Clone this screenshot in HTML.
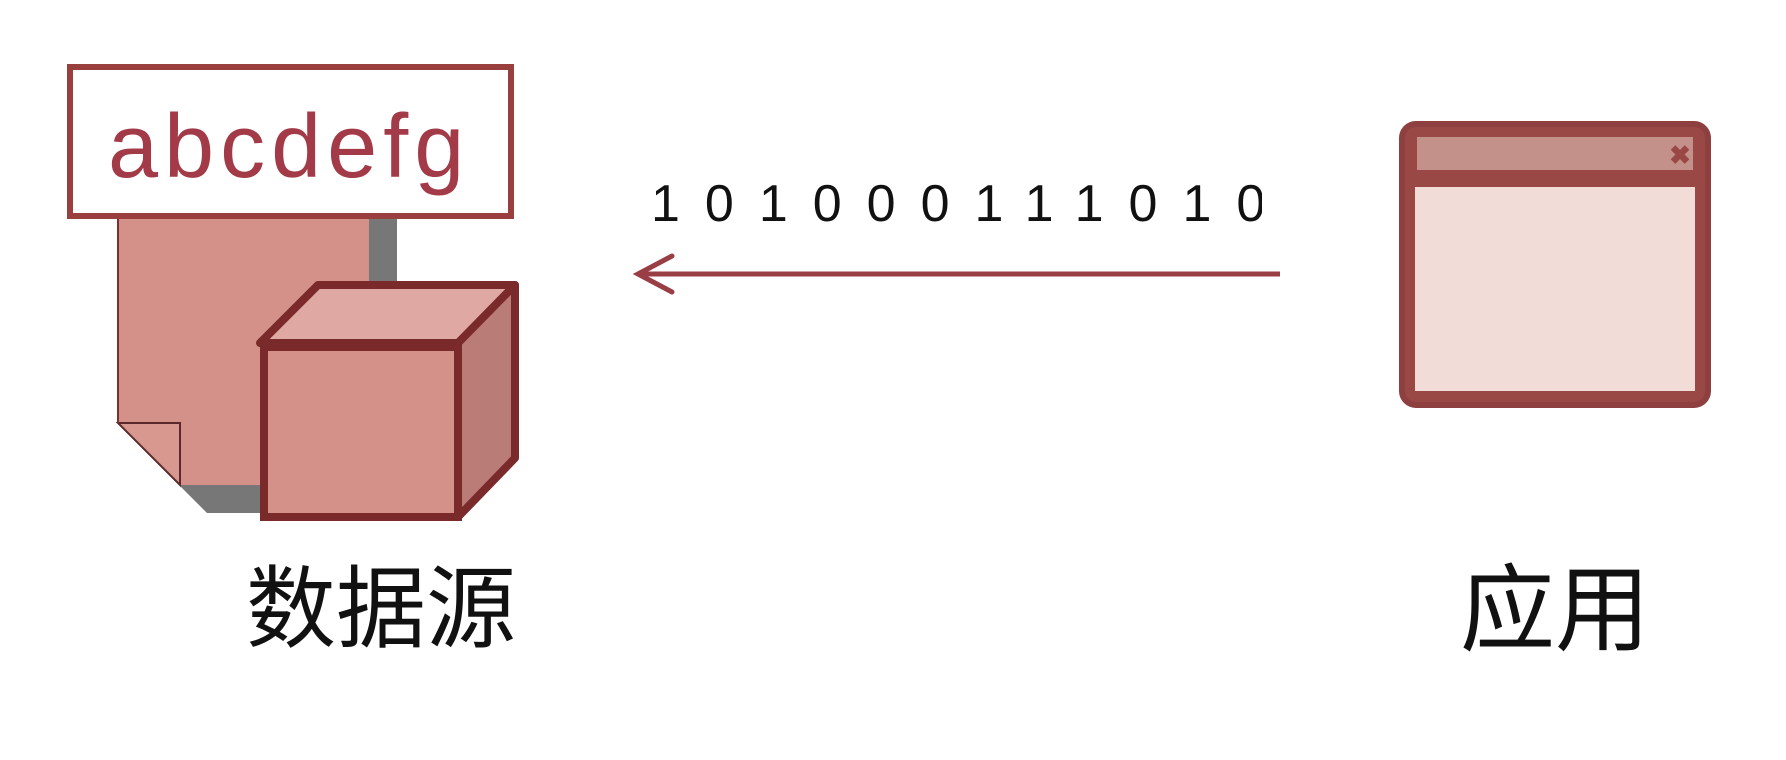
<!DOCTYPE html>
<html><head><meta charset="utf-8"><style>
html,body{margin:0;padding:0;background:#fff;}
body{width:1786px;height:760px;position:relative;overflow:hidden;font-family:"Liberation Sans","Noto Sans CJK SC",sans-serif;}
.t{position:absolute;white-space:nowrap;}
</style></head><body>
<svg width="1786" height="760" style="position:absolute;left:0;top:0">
  <polygon points="146,219 397,219 397,513 207,513 146,452" fill="#777"/>
  <polygon points="118,219 369,219 369,485 180,485 118,423" fill="#d4918a"/>
  <polygon points="118,423 180,423 180,485" fill="#d89890" stroke="#5a2a2a" stroke-width="2"/>
  <line x1="118" y1="219" x2="118" y2="423" stroke="#7a3030" stroke-width="2"/>
  <rect x="70" y="67" width="441" height="149" fill="#fff" stroke="#99403f" stroke-width="6"/>
  <polygon points="318,285 515,285 458,343 260,343" fill="#e0a8a2" stroke="#7a2a2a" stroke-width="8" stroke-linejoin="round"/>
  <polygon points="458,343 515,285 515,458 458,517" fill="#b97c76" stroke="#7a2a2a" stroke-width="8" stroke-linejoin="round"/>
  <rect x="264" y="347" width="194" height="170" fill="#d4918a" stroke="#7a2a2a" stroke-width="8"/>
  <line x1="638" y1="274" x2="1280" y2="274" stroke="#9a3e46" stroke-width="5"/>
  <polyline points="672,256 638,274 672,292" fill="none" stroke="#9a3e46" stroke-width="5" stroke-linecap="round"/>
  <rect x="1402" y="124" width="306" height="281" rx="14" fill="#9a4846" stroke="#8e4040" stroke-width="6"/>
  <rect x="1417" y="137" width="276" height="33" fill="#c4908a"/>
  <rect x="1415" y="187" width="280" height="204" fill="#f2dcd8"/>
  <text x="1680" y="164" font-family="Liberation Sans" font-weight="bold" font-size="26" fill="#9a4846" text-anchor="middle">✖</text>
</svg>
<div class="t" style="left:108px;top:96px;font-size:90px;color:#a33a47;letter-spacing:6px;">abcdefg</div>
<div class="t" style="left:651px;top:174px;width:611px;overflow:hidden;font-size:52px;color:#111;letter-spacing:25px;">101000111010</div>
<div class="t" style="left:246px;top:536px;font-size:90px;color:#111;">数据源</div>
<div class="t" style="left:1460px;top:534px;font-size:95px;color:#111;">应用</div>
</body></html>
